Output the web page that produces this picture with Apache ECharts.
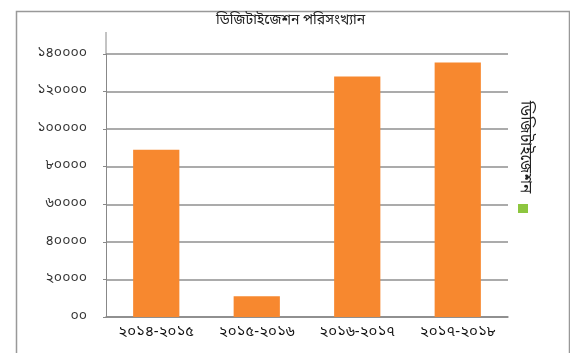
<!DOCTYPE html>
<html>
<head>
<meta charset="utf-8">
<script src="https://cdn.jsdelivr.net/npm/echarts@6/dist/echarts.min.js"></script>
<style>
html,body{margin:0;padding:0;background:#fff;}
#c{width:570px;height:353px;}
</style>
</head>
<body>
<div id="c"></div>
<script>
var categories = ['২০১৪-২০১৫', '২০১৫-২০১৬', '২০১৬-২০১৭', '২০১৭-২০১৮'];
var values = [89000, 11000, 128000, 135500];
var yTickValues = [0, 20000, 40000, 60000, 80000, 100000, 120000, 140000];
var yTickLabels = ['০০', '২০০০০', '৪০০০০', '৬০০০০', '৮০০০০', '১০০০০০', '১২০০০০', '১৪০০০০'];
var titleText = 'ডিজিটাইজেশন পরিসংখ্যান';
var seriesName = 'ডিজিটাইজেশন';

var font = '"Noto Sans Bengali","Noto Sans","DejaVu Sans",sans-serif';
var chart = echarts.init(document.getElementById('c'));
chart.setOption({
  backgroundColor: '#fff',
  animation: false,
  title: {
    text: titleText, left: 211, top: 9,
    textStyle: {fontSize: 14, fontWeight: 'normal', color: '#222', fontFamily: font}
  },
  grid: {left: 106, right: 62, top: 54, bottom: 36},
  xAxis: {
    type: 'category', data: categories,
    axisLine: {lineStyle: {color: '#888', width: 1.5}},
    axisTick: {show: false},
    axisLabel: {fontSize: 15, color: '#111', margin: 9, fontFamily: font,
                interval: 0, hideOverlap: false}
  },
  yAxis: {
    type: 'value', min: 0, max: 140000, interval: 20000,
    axisLine: {show: true, lineStyle: {color: '#888', width: 1}},
    axisTick: {show: true, length: 3, lineStyle: {color: '#888'}},
    splitLine: {lineStyle: {color: '#8f8f8f', width: 1.5}},
    axisLabel: {
      fontSize: 14, color: '#333', margin: 19, fontFamily: font,
      formatter: function (v) {
        var i = yTickValues.indexOf(v);
        return i >= 0 ? yTickLabels[i] : '';
      }
    }
  },
  series: [{
    name: seriesName, type: 'bar', data: values, barWidth: '46%',
    itemStyle: {color: '#F7882F'}
  }],
  graphic: [
    {type: 'rect', left: 14, top: 9, shape: {width: 553, height: 360},
     style: {fill: 'none', stroke: '#999', lineWidth: 1.5}, silent: true},
    {type: 'line', shape: {x1: 106, y1: 32, x2: 106, y2: 54},
     style: {stroke: '#888', lineWidth: 1}, silent: true},
    {type: 'text', x: 516, y: 101, rotation: -Math.PI / 2,
     style: {text: seriesName, fontSize: 15.5, fill: '#222', fontFamily: font,
             verticalAlign: 'bottom'}},
    {type: 'rect', shape: {x: 518, y: 204, width: 10, height: 9},
     style: {fill: '#8DC63F'}}
  ]
});
</script>
</body>
</html>
